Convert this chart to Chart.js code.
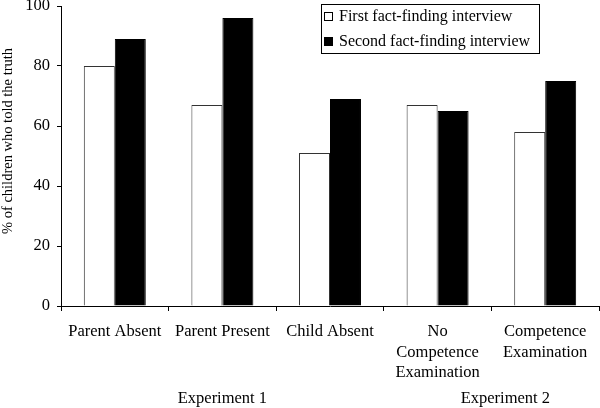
<!DOCTYPE html>
<html>
<head>
<meta charset="utf-8">
<script src="https://cdn.jsdelivr.net/npm/chart.js@4.4.0/dist/chart.umd.min.js"></script>
<style>
  html, body { margin: 0; padding: 0; background: #fff; }
  #wrap { width: 600px; height: 408px; position: relative; }
</style>
</head>
<body>
<div id="wrap"><canvas id="chart"></canvas></div>
<script>
const categories = [
    ['Parent Absent'],
    ['Parent Present'],
    ['Child Absent'],
    ['No', 'Competence', 'Examination'],
    ['Competence', 'Examination']
];
const firstInterview = [80, 67, 51, 67, 58];
const secondInterview = [89, 96, 69, 65, 75];
const seriesNames = ['First fact-finding interview', 'Second fact-finding interview'];
const groupNames = ['Experiment 1', 'Experiment 2'];
const groupCenters = [1, 3.63];
const yTicks = [0, 20, 40, 60, 80, 100];
const yTitle = '% of children who told the truth';

const serif = "'Liberation Serif', 'Times New Roman', serif";

// group labels under the category axis + y axis title
const extraText = {
    id: 'extraText',
    afterDraw(chart) {
        const ctx = chart.ctx;
        const xs = chart.scales.x;
        ctx.save();
        ctx.fillStyle = '#000';
        ctx.font = '16.5px ' + serif;
        ctx.textAlign = 'center';
        ctx.textBaseline = 'middle';
        groupNames.forEach((name, i) => {
            ctx.fillText(name, xs.getPixelForValue(groupCenters[i]), chart.height - 9);
        });
        ctx.translate(8, chart.chartArea.top + 135);
        ctx.rotate(-Math.PI / 2);
        ctx.font = '14.5px ' + serif;
        ctx.fillText(yTitle, 0, 0);
        ctx.restore();
    }
};

// boxed legend inside the plot
const boxLegend = {
    id: 'boxLegend',
    afterDraw(chart) {
        const ctx = chart.ctx;
        const x0 = 321, y0 = 4, w = 218, h = 49;
        ctx.save();
        ctx.fillStyle = '#fff';
        ctx.fillRect(x0, y0, w, h);
        ctx.strokeStyle = '#000';
        ctx.lineWidth = 1;
        ctx.strokeRect(x0 + 0.5, y0 + 0.5, w, h);
        ctx.font = '16px ' + serif;
        ctx.textBaseline = 'middle';
        chart.data.datasets.forEach((ds, i) => {
            const cy = 16 + i * 25;
            ctx.fillStyle = ds.backgroundColor;
            ctx.fillRect(324, cy - 4, 8, 8);
            ctx.strokeStyle = '#000';
            ctx.strokeRect(324.5, cy - 3.5, 8, 8);
            ctx.fillStyle = '#000';
            ctx.fillText(ds.label, 339, cy + 1);
        });
        ctx.restore();
    }
};

const ctx = document.querySelector('#chart').getContext('2d');
const myChart = new Chart(ctx, {
    type: 'bar',
    data: {
        labels: categories,
        datasets: [{
            label: seriesNames[0],
            data: firstInterview,
            backgroundColor: '#ffffff',
            borderColor: '#333333',
            borderWidth: 1
        }, {
            label: seriesNames[1],
            data: secondInterview,
            backgroundColor: '#000000',
            borderColor: '#000000',
            borderWidth: 1
        }]
    },
    options: {
        responsive: true,
        maintainAspectRatio: false,
        animation: false,
        layout: {
            padding: { top: 6, right: 1, left: 0, bottom: 0 }
        },
        datasets: {
            bar: { categoryPercentage: 0.576, barPercentage: 1.0 }
        },
        plugins: {
            legend: { display: false },
            tooltip: { enabled: false }
        },
        scales: {
            x: {
                grid: { drawOnChartArea: false, tickLength: 5, color: '#000', offset: true },
                border: { color: '#000' },
                ticks: {
                    color: '#000',
                    padding: 10,
                    maxRotation: 0,
                    autoSkip: false,
                    font: { family: serif, size: 16.5, lineHeight: 1.26 }
                },
                afterFit(scale) {
                    scale.height = 102;
                    scale.paddingLeft = 0;
                    scale.paddingRight = 0;
                }
            },
            y: {
                min: 0,
                max: 100,
                afterBuildTicks(scale) {
                    scale.ticks = yTicks.map(v => ({ value: v }));
                },
                grid: { drawOnChartArea: false, tickLength: 4, color: '#000' },
                border: { color: '#000' },
                ticks: {
                    color: '#000',
                    padding: 7,
                    font: { family: serif, size: 16.5 }
                },
                afterFit(scale) {
                    scale.width = 61;
                    scale.paddingTop = 0;
                    scale.paddingBottom = 0;
                }
            }
        }
    },
    plugins: [extraText, boxLegend]
});
</script>
</body>
</html>
